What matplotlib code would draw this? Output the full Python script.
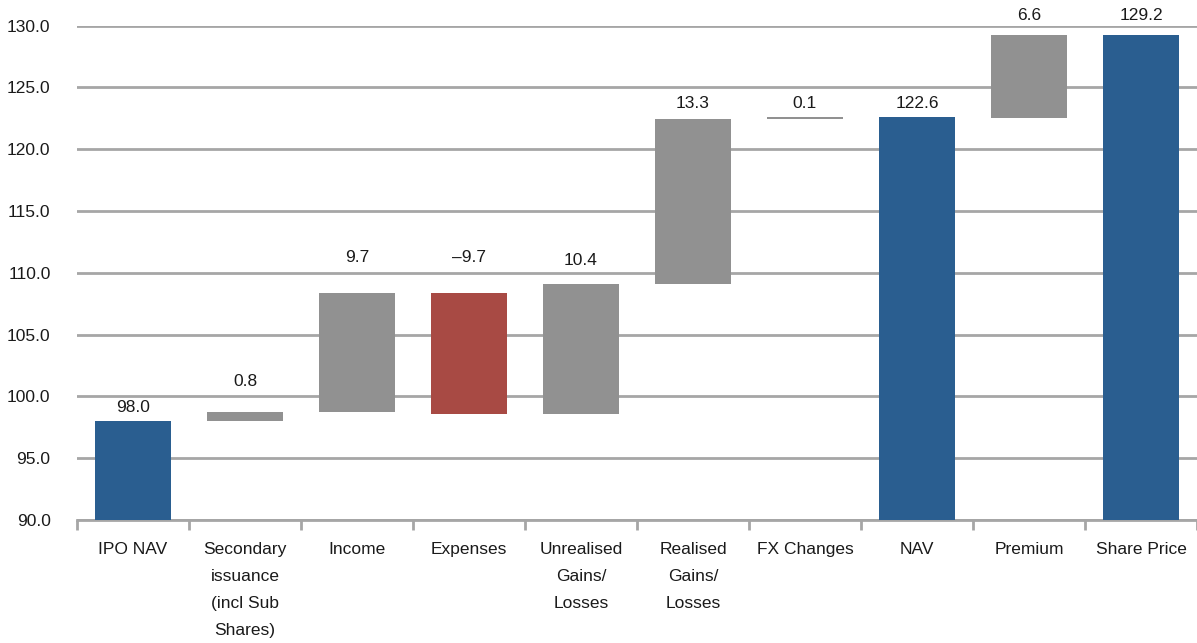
import matplotlib

matplotlib.use("Agg")
import matplotlib.pyplot as plt
import numpy as np

plt.rcParams["font.family"] = ["Liberation Sans", "DejaVu Sans"]

CATEGORIES = [
    "IPO NAV",
    "Secondary\nissuance\n(incl Sub\nShares)",
    "Income",
    "Expenses",
    "Unrealised\nGains/\nLosses",
    "Realised\nGains/\nLosses",
    "FX Changes",
    "NAV",
    "Premium",
    "Share Price",
]
# bar extents
BAR_BOTTOM = [90.0, 98.0, 98.7, 98.6, 98.6, 109.1, 122.4, 90.0, 122.5, 90.0]
BAR_TOP = [98.0, 98.7, 108.4, 108.4, 109.1, 122.4, 122.6, 122.6, 129.2, 129.2]
LABELS = ["98.0", "0.8", "9.7", "\u20139.7", "10.4", "13.3", "0.1", "122.6", "6.6", "129.2"]
# value label positions (centre, in data units)
LABEL_Y = [99.1, 101.2, 111.2, 111.2, 111.0, 123.7, 123.7, 123.7, 130.85, 130.85]
KIND = ["total", "step", "step", "neg", "step", "step", "step", "total", "step", "total"]

COLORS = {"total": "#2a5e90", "step": "#919191", "neg": "#a84a44"}
FS = 12.5


def main() -> None:
    fig = plt.figure(figsize=(11.97, 6.43), dpi=100)
    ax = fig.add_axes([0.0643, 0.1913, 0.9357, 0.769])

    x = np.arange(len(CATEGORIES))
    bottom = np.array(BAR_BOTTOM)
    height = np.array(BAR_TOP) - bottom
    colors = [COLORS[k] for k in KIND]
    ax.bar(x, height, bottom=bottom, width=0.68, color=colors, zorder=3)

    for xi, ly, lab in zip(x, LABEL_Y, LABELS):
        ax.text(xi, ly, lab, ha="center", va="center", fontsize=FS,
                color="#1a1a1a", clip_on=False, zorder=4)

    ax.set_xlim(-0.5, len(CATEGORIES) - 0.5)
    ax.set_ylim(90, 130)
    ticks = np.arange(90, 131, 5)
    ax.set_yticks(ticks)
    ax.set_yticklabels([f"{v:.1f}" for v in ticks], fontsize=FS, color="#1a1a1a")
    ax.yaxis.grid(True, color="#a6a6a6", lw=2.0, zorder=0)
    ax.set_axisbelow(True)

    ax.set_xticks(x)
    ax.set_xticklabels(CATEGORIES, fontsize=FS, color="#1a1a1a", linespacing=2.0, va="top")
    ax.set_xticks(np.arange(-0.5, len(CATEGORIES), 1.0), minor=True)
    ax.tick_params(axis="x", which="major", length=0, pad=16)
    ax.tick_params(axis="x", which="minor", length=7, width=2, color="#a6a6a6")
    ax.tick_params(axis="y", length=0, pad=19)

    for side in ("left", "right", "top"):
        ax.spines[side].set_visible(False)
    ax.spines["bottom"].set_color("#a6a6a6")
    ax.spines["bottom"].set_linewidth(2.0)

    fig.savefig("out.png", dpi=100)
    plt.close(fig)


if __name__ == "__main__":
    main()
